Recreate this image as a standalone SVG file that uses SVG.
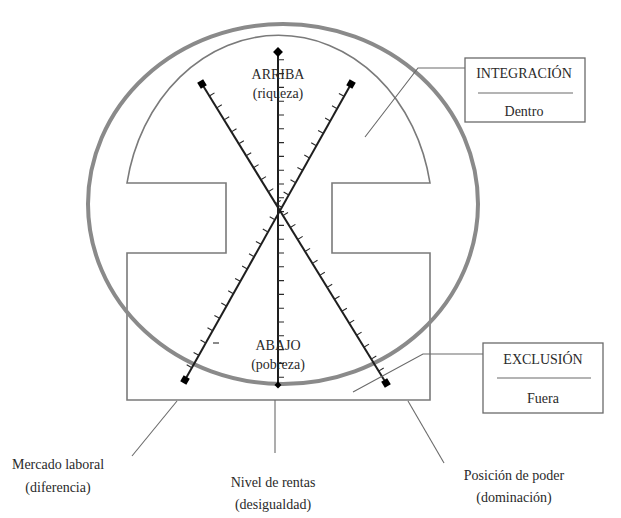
<svg xmlns="http://www.w3.org/2000/svg" width="621" height="518" viewBox="0 0 621 518">
<style>
  text { font-family: "Liberation Serif", "Times New Roman", serif; font-size: 14px; fill: #2a2a2a; text-anchor: middle; }
  .shape { fill: none; stroke: #7a7a7a; stroke-width: 1.6; }
  .ring { fill: none; stroke: #8a8a8a; stroke-width: 4; }
  .axis { fill: none; stroke: #1e1e1e; stroke-width: 2; }
  .tick { fill: none; stroke: #2a2a2a; stroke-width: 1.1; }
  .lead { fill: none; stroke: #6a6a6a; stroke-width: 1.1; }
  .box { fill: #fff; stroke: #6a6a6a; stroke-width: 1.3; }
  .mark { fill: #000; }
</style>
<rect width="621" height="518" fill="#fff"/>

<g id="cross-shape">
  <path class="shape" d="M127,183 A154,180 0 0 1 430,183 L332,183 L332,253 L430,253 L430,400 L127,400 L127,253 L226,253 L226,183 Z"/>
</g>

<g id="outer-circle">
  <ellipse class="ring" cx="283" cy="204" rx="195" ry="180"/>
</g>

<g id="axis-vertical">
  <line class="axis" x1="278" y1="52" x2="278" y2="385"/>
  <path class="tick" d="M278,59.8h6M278,73.6h6M278,87.4h6M278,101.2h6M278,115h6M278,128.8h6M278,142.6h6M278,156.4h6M278,170.2h6M278,184h6M278,197.8h6M278,211.6h6M278,225.4h6M278,239.2h6M278,253h6M278,266.8h6M278,280.6h6M278,294.4h6M278,308.2h6M278,322h6M278,335.8h6M278,349.6h6M278,363.4h6M278,377.2h6"/>
  <rect class="mark" x="-3.5" y="-3.5" width="7" height="7" transform="translate(278,52) rotate(45)"/>
  <rect class="mark" x="-2.5" y="-2.5" width="5" height="5" transform="translate(278,385) rotate(45)"/>
</g>

<g id="axis-diagonal-1">
  <line class="axis" x1="202" y1="84" x2="386" y2="383"/>
  <path class="tick" d="M209.4,96l5.1,-3.1M216.7,107.9l5.1,-3.1M224.1,119.9l5.1,-3.1M231.4,131.9l5.1,-3.1M238.8,143.8l5.1,-3.1M246.1,155.8l5.1,-3.1M253.5,167.7l5.1,-3.1M260.9,179.7l5.1,-3.1M268.2,191.7l5.1,-3.1M275.6,203.6l5.1,-3.1M282.9,215.6l5.1,-3.1M290.3,227.5l5.1,-3.1M297.6,239.5l5.1,-3.1M305,251.5l5.1,-3.1M312.4,263.4l5.1,-3.1M319.7,275.4l5.1,-3.1M327.1,287.4l5.1,-3.1M334.4,299.3l5.1,-3.1M341.8,311.3l5.1,-3.1M349.1,323.2l5.1,-3.1M356.5,335.2l5.1,-3.1M363.9,347.2l5.1,-3.1M371.2,359.1l5.1,-3.1M378.6,371.1l5.1,-3.1"/>
  <rect class="mark" x="-3.5" y="-3.5" width="7" height="7" transform="translate(202,84) rotate(58.4)"/>
  <rect class="mark" x="-3.5" y="-3.5" width="7" height="7" transform="translate(386,383) rotate(58.4)"/>
</g>

<g id="axis-diagonal-2">
  <line class="axis" x1="351" y1="84" x2="185" y2="380"/>
  <path class="tick" d="M344.1,96.3l-5.2,-2.9M337.2,108.7l-5.2,-2.9M330.3,121l-5.2,-2.9M323.3,133.3l-5.2,-2.9M316.4,145.7l-5.2,-2.9M309.5,158l-5.2,-2.9M302.6,170.3l-5.2,-2.9M295.7,182.7l-5.2,-2.9M288.8,195l-5.2,-2.9M281.8,207.3l-5.2,-2.9M274.9,219.7l-5.2,-2.9M268,232l-5.2,-2.9M261.1,244.3l-5.2,-2.9M254.2,256.7l-5.2,-2.9M247.3,269l-5.2,-2.9M240.3,281.3l-5.2,-2.9M233.4,293.7l-5.2,-2.9M226.5,306l-5.2,-2.9M219.6,318.3l-5.2,-2.9M212.7,330.7l-5.2,-2.9M205.7,343l-5.2,-2.9M198.8,355.3l-5.2,-2.9M191.9,367.7l-5.2,-2.9"/>
  <rect class="mark" x="-3.5" y="-3.5" width="7" height="7" transform="translate(351,84) rotate(119.3)"/>
  <rect class="mark" x="-3.5" y="-3.5" width="7" height="7" transform="translate(185,380) rotate(119.3)"/>
  <line class="tick" x1="213" y1="343" x2="219" y2="343"/>
</g>

<g id="label-arriba">
  <text x="278" y="79">ARRIBA</text>
  <text x="278" y="98">(riqueza)</text>
</g>

<g id="label-abajo">
  <text x="278" y="350">ABAJO</text>
  <text x="278" y="369">(pobreza)</text>
</g>

<g id="connectors">
  <polyline class="lead" points="365,137 418,68 465,68"/>
  <polyline class="lead" points="353,392 423,354 483,354"/>
  <line class="lead" x1="177" y1="401" x2="132" y2="456"/>
  <line class="lead" x1="275" y1="400" x2="275" y2="453"/>
  <line class="lead" x1="408" y1="401" x2="444" y2="463"/>
</g>

<g id="box-integracion">
  <rect class="box" x="465" y="58" width="120" height="64"/>
  <text x="524" y="78">INTEGRACIÓN</text>
  <line class="lead" x1="478" y1="93" x2="573" y2="93"/>
  <text x="524" y="116">Dentro</text>
</g>

<g id="box-exclusion">
  <rect class="box" x="483" y="343" width="120" height="70"/>
  <text x="543" y="364">EXCLUSIÓN</text>
  <line class="lead" x1="497" y1="378" x2="591" y2="378"/>
  <text x="543" y="403">Fuera</text>
</g>

<g id="label-mercado">
  <text x="58" y="469">Mercado laboral</text>
  <text x="58" y="492">(diferencia)</text>
</g>

<g id="label-nivel">
  <text x="273" y="487">Nivel de rentas</text>
  <text x="273" y="509">(desigualdad)</text>
</g>

<g id="label-posicion">
  <text x="514" y="480">Posición de poder</text>
  <text x="514" y="502">(dominación)</text>
</g>
</svg>
